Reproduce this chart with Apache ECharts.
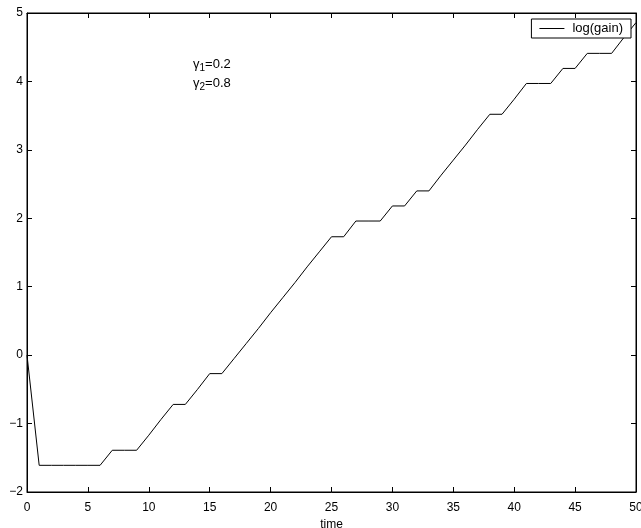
<!DOCTYPE html>
<html>
<head>
<meta charset="utf-8">
<script src="https://cdn.jsdelivr.net/npm/echarts@6/dist/echarts.min.js"></script>
<style>
  html, body { margin: 0; padding: 0; background: #fff; }
  #chart { width: 641px; height: 528px; }
</style>
</head>
<body>
<div id="chart"></div>
<script>
// time steps and log(gain)
const times = [0, 1, 2, 3, 4, 5, 6, 7, 8, 9, 10, 11, 12, 13, 14, 15, 16, 17, 18, 19, 20,
  21, 22, 23, 24, 25, 26, 27, 28, 29, 30, 31, 32, 33, 34, 35, 36, 37, 38, 39, 40,
  41, 42, 43, 44, 45, 46, 47, 48, 49, 50];
const logGain = [0, -1.61, -1.61, -1.61, -1.61, -1.61, -1.61, -1.39, -1.39, -1.39, -1.17,
  -0.94, -0.72, -0.72, -0.50, -0.27, -0.27, -0.05, 0.17, 0.39, 0.62,
  0.84, 1.06, 1.29, 1.51, 1.73, 1.73, 1.96, 1.96, 1.96, 2.18,
  2.18, 2.40, 2.40, 2.63, 2.85, 3.07, 3.30, 3.52, 3.52, 3.74,
  3.97, 3.97, 3.97, 4.19, 4.19, 4.41, 4.41, 4.41, 4.64, 4.86];
const xTicks = [0, 50, 5];   // min, max, step
const yTicks = [-2, 5, 1];

const font = 'Liberation Sans, Arial, Helvetica, sans-serif';
const minus = v => String(v).replace('-', '\u2212');

const chart = echarts.init(document.getElementById('chart'));

const axisCommon = {
  type: 'value',
  axisLine: { show: true, onZero: false, lineStyle: { color: '#000', width: 1 } },
  axisTick: { show: true, inside: true, length: 5, lineStyle: { color: '#000' } },
  splitLine: { show: false }
};

chart.setOption({
  animation: false,
  backgroundColor: '#fff',
  // box round the plot, matlab style
  grid: {
    left: 27, right: 5, top: 13, bottom: 36,
    outerBoundsMode: 'none',
    show: true, borderColor: '#000', borderWidth: 1, backgroundColor: 'transparent'
  },
  legend: {
    data: ['log(gain)'],
    right: 10,
    top: 19,
    icon: 'rect',
    backgroundColor: '#fff',
    borderColor: '#000',
    borderWidth: 1,
    borderRadius: 0,
    padding: [3, 8, 3, 8],
    itemWidth: 25,
    itemHeight: 1,
    itemGap: 0,
    textStyle: { color: '#000', fontSize: 13, fontFamily: font, padding: [0, 0, 0, 3] }
  },
  xAxis: [
    Object.assign({}, axisCommon, {
      min: xTicks[0], max: xTicks[1], interval: xTicks[2],
      position: 'bottom',
      name: 'time',
      nameLocation: 'middle',
      nameGap: 22,
      nameTextStyle: { color: '#000', fontSize: 12, fontFamily: font },
      axisLabel: { color: '#000', fontSize: 12, fontFamily: font, margin: 10 }
    }),
    Object.assign({}, axisCommon, {
      min: xTicks[0], max: xTicks[1], interval: xTicks[2],
      position: 'top',
      axisLabel: { show: false }
    })
  ],
  yAxis: [
    Object.assign({}, axisCommon, {
      min: yTicks[0], max: yTicks[1], interval: yTicks[2],
      position: 'left',
      axisLabel: { color: '#000', fontSize: 12, fontFamily: font, margin: 4, formatter: minus }
    }),
    Object.assign({}, axisCommon, {
      min: yTicks[0], max: yTicks[1], interval: yTicks[2],
      position: 'right',
      axisLabel: { show: false }
    })
  ],
  series: [{
    name: 'log(gain)',
    type: 'line',
    data: times.map((t, i) => [t, logGain[i]]),
    symbol: 'none',
    lineStyle: { color: '#000', width: 1 },
    itemStyle: { color: '#000' },
    z: 1
  }],
  graphic: [
    {
      type: 'text',
      left: 193,
      top: 58,
      style: {
        text: '{m|\u03b3}{s|1}{m|=0.2}\n{m|\u03b3}{s|2}{m|=0.8}',
        fill: '#000',
        font: '13px ' + font,
        rich: {
          m: { fontSize: 13, fontFamily: font, lineHeight: 19, verticalAlign: 'top', fill: '#000' },
          s: { fontSize: 10, fontFamily: font, lineHeight: 19, verticalAlign: 'top', padding: [5, 0, 0, 0], fill: '#000' }
        }
      }
    }
  ]
});
</script>
</body>
</html>
